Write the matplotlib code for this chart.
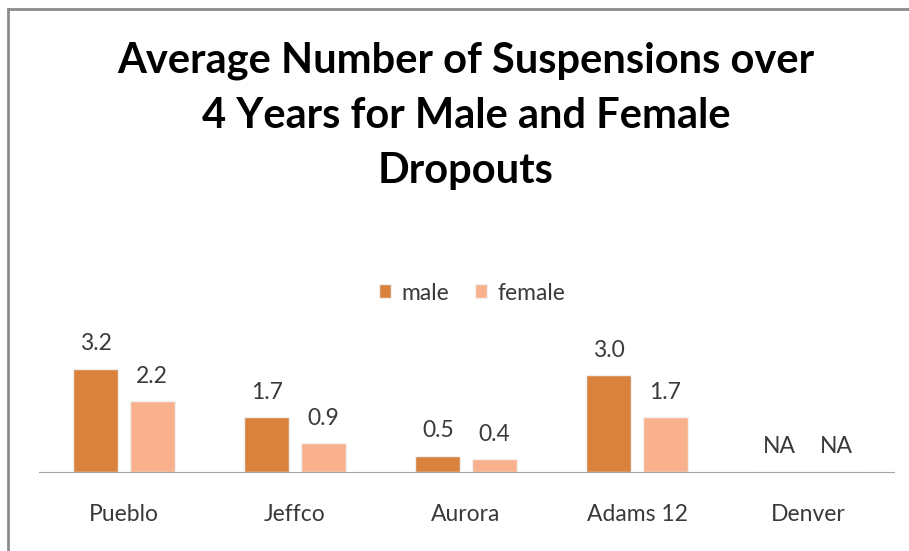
import matplotlib
matplotlib.use("Agg")
import matplotlib.pyplot as plt
import numpy as np
from matplotlib.lines import Line2D

districts = ["Pueblo", "Jeffco", "Aurora", "Adams 12", "Denver"]
male = [3.2, 1.7, 0.5, 3.0, None]
female = [2.2, 0.9, 0.4, 1.7, None]

plt.rcParams['font.family'] = ['Lato', 'DejaVu Sans']

fig = plt.figure(figsize=(9.09, 5.51), dpi=100)
ax = fig.add_axes([0.0424, 0.1434, 0.9406, 0.257])

x = np.arange(len(districts))
w = 0.265
off = 0.165
male_c = "#D9823D"
female_c = "#F8B18C"
txt_c = "#3A3A3A"

def vals(arr):
    return [0 if v is None else v for v in arr]

ax.bar(x - off, vals(male), w, color=male_c, edgecolor="#f0f0f0", linewidth=1, label="male")
ax.bar(x + off, vals(female), w, color=female_c, edgecolor="#f0f0f0", linewidth=1, label="female")

for xs, arr in ((x - off, male), (x + off, female)):
    for xi, v in zip(xs, arr):
        txt = "NA" if v is None else "%.1f" % v
        h = 0 if v is None else v
        ax.annotate(txt, (xi, h), xytext=(0, 18), textcoords="offset points",
                    ha="center", va="center", fontsize=16.5, color=txt_c)

ax.set_xlim(-0.5, len(districts) - 0.5)
ax.set_ylim(0, 4.4)
ax.set_yticks([])
ax.set_xticks(x)
ax.set_xticklabels(districts, fontsize=16.5, color=txt_c)
ax.tick_params(axis="x", length=0, pad=23)
for s in ["top", "right", "left"]:
    ax.spines[s].set_visible(False)
ax.spines["bottom"].set_color("#A6A6A6")

fig.legend(loc="center", bbox_to_anchor=(472 / 909, 1 - 293 / 551), ncol=2, frameon=False,
           fontsize=16.5, handlelength=0.55, handleheight=0.55, handletextpad=0.45, columnspacing=1.1,
           labelcolor=txt_c)

fig.text(466 / 909, 1 - 116 / 551,
         "Average Number of Suspensions over\n4 Years for Male and Female\nDropouts",
         ha="center", va="center", fontsize=30, fontweight="bold", linespacing=1.55, color="black")

# chart border (left and top)
fig.add_artist(Line2D([8 / 909, 8 / 909], [0, 1 - 9 / 551], transform=fig.transFigure, color="#8C8C8C", lw=2))
fig.add_artist(Line2D([8 / 909, 1], [1 - 9 / 551, 1 - 9 / 551], transform=fig.transFigure, color="#8C8C8C", lw=2))

fig.savefig("out.png", dpi=100, facecolor="white")
